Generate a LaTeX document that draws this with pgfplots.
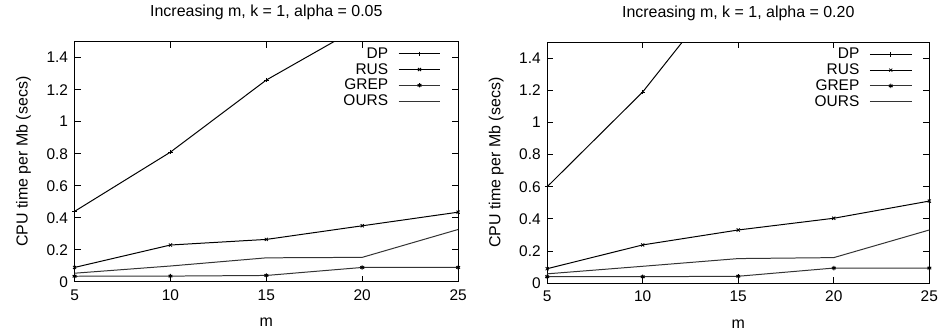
\documentclass[border=0pt]{standalone}
\usepackage{pgfplots}
\pgfplotsset{compat=1.18}
\usepackage{fontspec}
\setmainfont{Liberation Sans}
\begin{document}
\pgfplotsset{
  gp/.style={
    scale only axis,
    anchor=south west,
    xmin=5, xmax=25, ymin=0, ymax=1.5,
    xtick={5,10,15,20,25},
    ytick={0,0.2,0.4,0.6,0.8,1,1.2,1.4},
    tick align=inside,
    tick pos=both,
    major tick length=6pt,
    axis line style={line width=1pt},
    every tick/.style={black, line width=0.8pt},
    /pgf/number format/assume math mode=true,
    tick label style={font=\fontsize{15.5}{18}\selectfont},
    xticklabel shift=4pt,
    yticklabel shift=3pt,
    title style={font=\fontsize{16}{19}\selectfont, at={(axis description cs:0.5,1)}, anchor=base, yshift=19pt},
    xlabel style={font=\fontsize{16}{19}\selectfont, at={(axis description cs:0.5,0)}, anchor=base, yshift=-45pt},
    ylabel style={font=\fontsize{16}{19}\selectfont, at={(axis description cs:0,0.5)}, anchor=base, yshift=47pt},
    xlabel={m},
    ylabel={CPU time per Mb (secs)},
    legend plot pos=right,
    legend cell align=right,
    legend style={draw=none, fill=none, font=\fontsize{15.5}{16.5}\selectfont,
      at={(axis description cs:1,1)}, anchor=north east, xshift=-14pt, yshift=-2pt,
      row sep=-0.5pt, /tikz/column sep=8pt},
    legend image code/.code={\draw[mark repeat=2,mark phase=2,#1] plot coordinates {(0pt,0pt)(21pt,0pt)(42pt,0pt)};},
    every axis plot/.append style={line width=1pt, mark size=2.2pt, mark options={line width=0.8pt}},
  }
}
\begin{tikzpicture}
\begin{axis}[gp, at={(72pt,48.3pt)}, width=384.7pt, height=241pt,
  title={Increasing m, k = 1, alpha = 0.05}]
\addplot[black, mark=+] coordinates {(5,0.44) (10,0.81) (15,1.26) (20,1.60) (25,2.00)};
\addlegendentry{DP}
\addplot[black, mark=x] coordinates {(5,0.09) (10,0.23) (15,0.265) (20,0.35) (25,0.435)};
\addlegendentry{RUS}
\addplot[black!80, mark=asterisk, mark options={black}] coordinates {(5,0.035) (10,0.036) (15,0.04) (20,0.09) (25,0.09)};
\addlegendentry{GREP}
\addplot[black!80, no marks] coordinates {(5,0.054) (10,0.099) (15,0.15) (20,0.153) (25,0.327)};
\addlegendentry{OURS}
\end{axis}
\begin{axis}[gp, at={(546pt,47pt)}, width=383.3pt, height=241.7pt,
  title={Increasing m, k = 1, alpha = 0.20}]
\addplot[black, mark=+] coordinates {(5,0.60) (10,1.19) (15,1.94) (20,2.60) (25,3.30)};
\addlegendentry{DP}
\addplot[black, mark=x] coordinates {(5,0.09) (10,0.238) (15,0.331) (20,0.404) (25,0.511)};
\addlegendentry{RUS}
\addplot[black!80, mark=asterisk, mark options={black}] coordinates {(5,0.04) (10,0.04) (15,0.043) (20,0.094) (25,0.094)};
\addlegendentry{GREP}
\addplot[black!80, no marks] coordinates {(5,0.058) (10,0.105) (15,0.153) (20,0.159) (25,0.331)};
\addlegendentry{OURS}
\end{axis}
\pgfresetboundingbox
\path (0pt,0pt) rectangle (938pt,331pt);
\end{tikzpicture}
\end{document}
